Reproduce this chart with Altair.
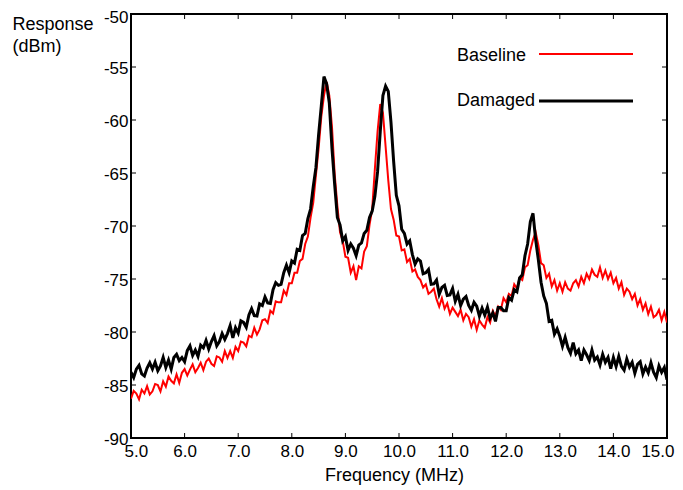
import altair as alt
import numpy as np
import pandas as pd

# frequency grid (MHz), 0.05 MHz sampling
freq = [round(x, 2) for x in np.arange(5.0, 15.0001, 0.05)]

damaged = [
    -83.8, -84.3, -83.5, -83.15, -83.95, -84.15, -83.4, -82.9, -83.5, -82.85,
    -83.65, -83.2, -82.4, -83.35, -82.65, -83.5, -82.4, -82.1, -82.7, -82.4,
    -82.8, -81.75, -81.3, -82.2, -81.7, -82.3, -81.25, -81.5, -80.8, -81.6,
    -80.9, -80.35, -81.3, -80.9, -80.15, -80.7, -80.15, -79.4, -80.55, -79.6,
    -80.1, -78.95, -79.1, -79.55, -78.4, -77.8, -78.45, -78.5, -77.35, -77.5,
    -76.7, -77.25, -77.3, -76.0, -75.35, -75.6, -75.5, -74.4, -73.7, -74.4,
    -73.3, -73.5, -72.2, -72.3, -70.9, -70.7, -69.3, -68.4, -66.3, -64.5,
    -61.4, -58.7, -55.9, -56.6, -58.4, -62.7, -66.1, -69.2, -69.9, -71.4,
    -71.0, -72.3, -71.7, -72.1, -72.8, -71.8, -71.6, -70.7, -70.4, -69.2,
    -68.6, -67.2, -64.9, -61.1, -57.7, -56.8, -57.3, -60.2, -63.9, -67.1,
    -68.1, -70.3, -70.7, -71.7, -71.4, -72.7, -73.6, -73.1, -73.3, -74.5,
    -74.4, -74.1, -75.5, -75.45, -75.1, -76.45, -75.8, -75.6, -76.55, -76.5,
    -75.9, -77.1, -76.45, -77.5, -76.9, -76.65, -77.5, -77.95, -77.2, -77.55,
    -78.5, -77.75, -78.4, -77.65, -78.7, -78.2, -79.0, -77.7, -77.7, -78.0,
    -78.0, -76.75, -77.0, -76.0, -76.2, -74.9, -74.6, -72.8, -71.7, -69.6,
    -68.8, -71.3, -73.2, -75.3, -76.6, -77.3, -79.0, -78.9, -80.2, -79.7,
    -80.4, -81.35, -80.5, -81.45, -82.0, -81.0, -82.05, -81.7, -82.7, -81.7,
    -82.15, -82.7, -81.7, -82.65, -82.35, -83.1, -82.1, -82.85, -82.4, -83.45,
    -82.4, -83.25, -82.3, -83.25, -83.6, -82.55, -83.3, -82.85, -83.9, -83.05,
    -82.8, -83.95, -83.3, -83.85, -82.9, -83.8, -84.3, -83.2, -83.8, -83.35,
    -84.5,
]

baseline = [
    -86.3, -85.55, -85.8, -86.35, -85.45, -85.8, -85.1, -85.9, -85.6, -84.9,
    -85.0, -85.6, -84.65, -85.15, -84.2, -84.6, -84.85, -84.0, -84.8, -83.85,
    -83.5, -84.1, -83.55, -83.05, -83.8, -83.4, -82.9, -83.6, -82.8, -82.5,
    -83.0, -83.2, -82.3, -82.4, -82.8, -81.8, -82.45, -81.8, -82.45, -81.4,
    -81.8, -80.9, -81.0, -81.35, -80.35, -80.5, -79.6, -80.25, -79.75, -78.9,
    -78.8, -79.15, -78.0, -78.25, -77.1, -77.2, -77.2, -76.1, -76.5, -75.4,
    -75.4, -74.4, -74.4, -73.3, -73.1, -71.7, -71.0, -69.2, -67.8, -65.2,
    -62.7, -59.7, -57.7, -56.4, -57.7, -60.7, -65.1, -68.1, -70.6, -71.4,
    -72.9, -73.0, -74.4, -73.8, -75.1, -73.8, -74.0, -72.4, -71.9, -69.9,
    -68.4, -64.6, -61.1, -58.5, -59.3, -62.5, -65.7, -68.4, -69.4, -70.9,
    -71.0, -72.3, -72.2, -73.4, -73.1, -74.3, -74.1, -74.8, -75.1, -75.8,
    -75.5, -76.4, -76.2, -75.9, -76.9, -77.6, -76.8, -77.8, -77.3, -78.3,
    -77.7, -78.1, -78.5, -77.9, -78.9, -78.3, -78.6, -79.5, -78.8, -79.8,
    -78.9, -79.3, -79.6, -78.6, -79.1, -78.0, -78.5, -77.6, -77.9, -76.8,
    -77.2, -76.4, -76.6, -75.5, -75.9, -74.9, -75.1, -73.9, -73.7, -72.3,
    -71.3, -70.6, -71.8, -73.5, -73.7, -74.9, -74.5, -75.7, -75.1, -76.1,
    -75.4, -76.2, -75.3, -75.9, -76.1, -75.4, -75.1, -75.7, -74.8, -75.4,
    -74.5, -75.0, -74.1, -74.6, -74.8, -73.9, -74.9, -74.2, -75.0, -74.4,
    -75.4, -74.9, -75.9, -75.3, -76.5, -75.9, -76.2, -76.9, -76.4, -77.5,
    -76.9, -77.9, -77.3, -78.3, -77.6, -78.6, -78.4, -77.9, -78.9, -78.1,
    -79.1,
]

x_ticks = [5, 6, 7, 8, 9, 10, 11, 12, 13, 14, 15]
y_ticks = [-90, -85, -80, -75, -70, -65, -60, -55, -50]

W, H = 536, 424
FONT = "Liberation Sans"

df_b = pd.DataFrame({"f": freq, "v": baseline})
df_d = pd.DataFrame({"f": freq, "v": damaged})
df_xt = pd.DataFrame({"f": x_ticks})
df_yt = pd.DataFrame({"v": y_ticks})
one = pd.DataFrame({"a": [0]})

xscale = alt.Scale(domain=[5, 15], nice=False, zero=False)
yscale = alt.Scale(domain=[-90, -50], nice=False, zero=False)

xaxis = alt.Axis(
    values=x_ticks, labelExpr="format(datum.value, '.1f')", tickSize=0, grid=False,
    domain=False, labelFontSize=17, labelFont=FONT, labelColor="black", labelPadding=5,
    labelOverlap=False, labelFlush=True, labelFlushOffset=7,
    title="Frequency (MHz)", titleFont=FONT, titleFontSize=18, titleFontWeight="normal",
    titleColor="black", titleX=263, titleY=42, titleAlign="center", titleBaseline="alphabetic",
)
yaxis = alt.Axis(
    values=y_ticks, labelExpr="'' + datum.value", tickSize=0, grid=False,
    domain=False, labelFontSize=17, labelFont=FONT, labelColor="black", labelPadding=3,
    labelOverlap=False, labelFlush=False,
    labelOffset={"condition": {"test": "datum.value == -50", "value": 3.5}, "value": 1},
    title=["Response", "(dBm)"], titleFont=FONT, titleFontSize=18, titleFontWeight="normal",
    titleColor="black", titleAngle=0, titleX=-119, titleY=15, titleAlign="left",
    titleBaseline="alphabetic", titleLineHeight=22,
)

red_line = alt.Chart(df_b).mark_line(color="#ff0000", strokeWidth=2, clip=True).encode(
    x=alt.X("f:Q", scale=xscale, axis=xaxis),
    y=alt.Y("v:Q", scale=yscale, axis=yaxis),
)
black_line = alt.Chart(df_d).mark_line(color="#000000", strokeWidth=3, clip=True).encode(
    x=alt.X("f:Q", scale=xscale),
    y=alt.Y("v:Q", scale=yscale),
)

tick_b = alt.Chart(df_xt).mark_rule(color="black", strokeWidth=1).encode(
    x=alt.X("f:Q", scale=xscale), y=alt.value(H), y2=alt.value(H - 5))
tick_t = alt.Chart(df_xt).mark_rule(color="black", strokeWidth=1).encode(
    x=alt.X("f:Q", scale=xscale), y=alt.value(0), y2=alt.value(5))
tick_l = alt.Chart(df_yt).mark_rule(color="black", strokeWidth=1).encode(
    y=alt.Y("v:Q", scale=yscale), x=alt.value(0), x2=alt.value(5))
tick_r = alt.Chart(df_yt).mark_rule(color="black", strokeWidth=1).encode(
    y=alt.Y("v:Q", scale=yscale), x=alt.value(W), x2=alt.value(W - 5))

leg_red = alt.Chart(one).mark_rule(color="#ff0000", strokeWidth=2).encode(
    x=alt.value(408), x2=alt.value(502), y=alt.value(40))
leg_blk = alt.Chart(one).mark_rule(color="#000000", strokeWidth=3).encode(
    x=alt.value(408), x2=alt.value(502), y=alt.value(87))
leg_t1 = alt.Chart(one).mark_text(align="left", baseline="alphabetic", font=FONT,
                                  fontSize=18, color="black").encode(
    x=alt.value(326), y=alt.value(47), text=alt.value("Baseline"))
leg_t2 = alt.Chart(one).mark_text(align="left", baseline="alphabetic", font=FONT,
                                  fontSize=18, color="black").encode(
    x=alt.value(326), y=alt.value(92), text=alt.value("Damaged"))

chart = alt.layer(
    red_line, black_line, tick_b, tick_t, tick_l, tick_r, leg_red, leg_blk, leg_t1, leg_t2
).properties(
    width=W, height=H,
    autosize=alt.AutoSizeParams(type="none"),
    padding={"left": 123, "top": 6, "right": 8, "bottom": 50},
    background="white",
).configure_view(stroke="black", strokeWidth=2)

chart.save("out.html", embed_options={"renderer": "svg", "actions": False})
